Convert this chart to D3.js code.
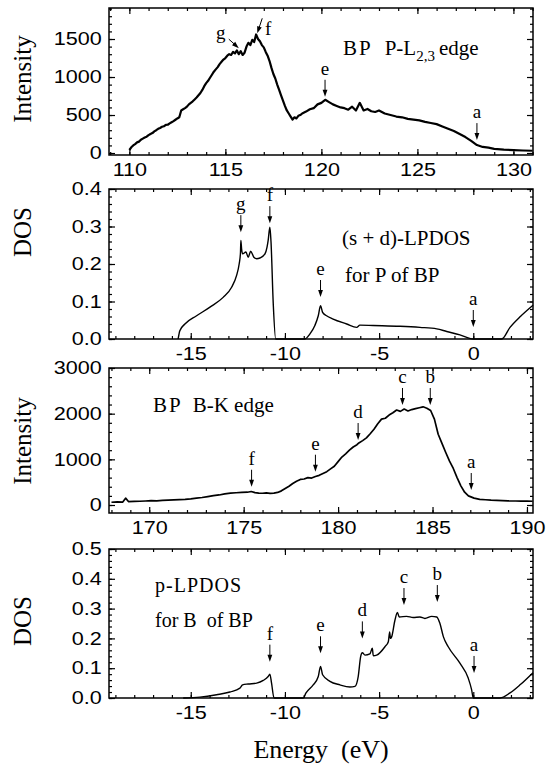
<!DOCTYPE html>
<html>
<head>
<meta charset="utf-8">
<script src="https://cdnjs.cloudflare.com/ajax/libs/d3/7.8.5/d3.min.js"></script>
<style>
  body { margin: 0; background: #fff; }
  svg { display: block; }
  svg text { white-space: pre; }
</style>
</head>
<body>
<svg width="551" height="768"></svg>
<script>
// P-L2,3 edge spectrum (energy loss in eV, counts)
const pEdgeE = [110.0,110.1,110.2,110.3,110.4,110.5,110.6,110.7,110.8,110.9,111.0,111.1,111.2,111.3,111.4,111.5,111.6,111.7,111.8,111.9,
  112.0,112.1,112.2,112.3,112.4,112.5,112.6,112.7,112.8,112.9,113.0,113.1,113.2,113.3,113.4,113.5,113.6,113.7,113.8,113.9,
  114.0,114.1,114.2,114.3,114.4,114.5,114.6,114.7,114.8,114.9,115.0,115.1,115.2,115.3,115.4,115.5,115.6,115.7,115.8,115.9,
  116.0,116.1,116.2,116.3,116.4,116.5,116.6,116.7,116.8,116.9,117.0,117.1,117.2,117.3,117.4,117.5,117.6,117.7,117.8,117.9,
  118.0,118.1,118.2,118.3,118.4,118.5,118.6,118.7,118.8,118.9,119.0,119.2,119.4,119.6,119.8,120.0,120.2,120.4,120.6,120.8,
  121.0,121.2,121.4,121.6,121.8,122.0,122.2,122.4,122.6,122.8,123.0,123.3,123.6,123.9,124.2,124.5,124.8,125.1,125.4,125.7,
  126.0,126.3,126.6,126.9,127.2,127.5,127.8,128.1,128.4,128.7,129.0,129.5,130.0,130.5,131.0];
const pEdgeI = [40,75,100,118,140,150,175,190,205,215,235,250,262,285,300,318,330,345,352,370,
  372,390,405,420,438,455,470,560,575,590,610,640,660,680,705,730,760,790,830,880,
  920,950,990,1030,1070,1100,1130,1170,1200,1230,1250,1280,1300,1290,1330,1310,1350,1300,1340,1290,
  1320,1400,1450,1420,1490,1460,1560,1500,1470,1420,1390,1330,1280,1210,1120,1040,980,900,830,760,
  690,620,560,520,480,440,470,455,490,500,520,545,575,590,640,660,700,670,640,620,
  600,590,570,610,560,660,560,580,550,540,560,520,500,480,470,450,440,430,410,395,
  380,350,320,290,250,210,160,105,80,70,55,45,38,33,30];

// (s + d)-LPDOS for P (eV, states/eV)
const pDosE = [-15.67,-15.58,-15.31,-14.69,-13.98,-13.28,-12.83,-12.57,-12.43,-12.36,-12.34,-12.3,-12.25,-12.07,-11.95,-11.82,-11.65,-11.5,-11.33,-11.06,
  -10.95,-10.89,-10.8,-10.74,-10.62,-10.49,-8.94,-8.68,-8.41,-8.23,-8.11,-8.0,-7.79,-7.44,-6.72,-6.19,-6.02,-5.31,-3.89,-2.83,
  -1.94,-1.41,-0.71,0,1.51,1.95,2.5,3.17];
const pDosV = [0,0.022,0.040,0.062,0.085,0.111,0.138,0.169,0.200,0.230,0.263,0.240,0.227,0.232,0.218,0.234,0.218,0.214,0.216,0.227,
  0.245,0.263,0.298,0.260,0.094,0,0,0.013,0.036,0.062,0.089,0.071,0.062,0.053,0.040,0.031,0.037,0.036,0.034,0.031,
  0.027,0.020,0.011,0,0,0.031,0.060,0.090];

// B-K edge spectrum
const bEdgeE = [168.0,168.3,168.6,168.75,168.9,169.2,169.5,169.8,170.1,170.4,170.7,171.0,171.3,171.6,171.9,172.2,172.5,172.8,173.1,173.4,
  173.7,174.0,174.3,174.6,174.9,175.2,175.4,175.6,175.8,176.0,176.2,176.4,176.6,176.8,177.0,177.2,177.4,177.6,177.8,178.0,
  178.2,178.4,178.6,178.8,179.0,179.2,179.4,179.6,179.8,180.0,180.2,180.4,180.6,180.8,181.0,181.1,181.3,181.5,181.7,181.9,
  182.1,182.3,182.5,182.7,182.9,183.1,183.3,183.5,183.7,183.9,184.1,184.3,184.5,184.7,184.9,185.1,185.3,185.5,185.7,185.9,
  186.1,186.3,186.5,186.7,186.9,187.2,187.5,187.8,188.1,188.4,188.7,189.0,189.4,189.7,190.0,190.3];
const bEdgeI = [60,70,65,150,75,80,82,88,95,92,100,108,112,118,125,135,150,165,185,205,
  220,245,260,268,275,280,295,270,262,258,265,255,262,275,310,360,410,470,520,560,
  570,600,590,625,650,690,730,790,850,950,1050,1120,1200,1270,1320,1360,1410,1470,1560,1660,
  1780,1880,1900,1970,2020,2080,2050,2100,2060,2090,2110,2130,2150,2120,2070,1880,1550,1350,1150,960,
  800,600,420,280,200,150,125,115,105,100,95,90,88,85,85,82];

// p-LPDOS for B
const bDosE = [-15.4,-14.51,-13.63,-12.92,-12.39,-12.25,-11.95,-11.5,-11.15,-10.89,-10.8,-10.71,-10.58,-9.03,-8.88,-8.5,-8.23,-8.11,-8.0,-7.61,
  -7.08,-6.55,-6.28,-6.11,-5.98,-5.89,-5.75,-5.49,-5.36,-5.31,-5.13,-4.69,-4.51,-4.44,-4.4,-4.33,-4.16,-4.03,-3.93,-3.54,
  -3.19,-2.83,-2.57,-2.21,-1.94,-1.77,-1.59,-1.33,-0.71,-0.27,-0.09,0,1.42,1.95,2.5,3.17];
const bDosV = [0,0.003,0.011,0.020,0.033,0.044,0.047,0.050,0.059,0.072,0.080,0.050,0,0,0.017,0.044,0.072,0.106,0.078,0.056,
  0.044,0.037,0.039,0.072,0.139,0.152,0.144,0.148,0.167,0.142,0.144,0.172,0.189,0.222,0.200,0.206,0.261,0.287,0.272,0.274,
  0.270,0.272,0.267,0.274,0.272,0.250,0.206,0.172,0.117,0.067,0.028,0,0,0.017,0.045,0.085];

// peak labels: letter, energy, value at arrow tip
const pEdgeMarks = [["g",115.7,1380],["f",116.66,1575],["e",120.19,740],["a",128.1,170]];
const pDosMarks = [["g",-12.34,0.285],["f",-10.8,0.309],["e",-8.11,0.112],["a",0,0.032]];
const bEdgeMarks = [["f",175.42,400],["e",178.8,729],["d",181.06,1423],["c",183.41,2190],["b",184.88,2190],["a",187.05,328]];
const bDosMarks = [["f",-10.8,0.122],["e",-8.11,0.15],["d",-5.89,0.2],["c",-3.68,0.312],["b",-1.91,0.322],["a",0.04,0.084]];

const pEdgeYTicks = [0, 500, 1000, 1500];
const dosPYTicks = [0, 0.1, 0.2, 0.3, 0.4];
const bEdgeYTicks = [0, 1000, 2000, 3000];
const dosBYTicks = [0, 0.1, 0.2, 0.3, 0.4, 0.5];
const pEdgeXTicks = [110, 115, 120, 125, 130];
const bEdgeXTicks = [170, 175, 180, 185, 190];
const dosXTicks = [-15, -10, -5, 0];

const svg = d3.select("svg");
const left = 109, right = 533;
const serif = "'Liberation Serif', 'Times New Roman', serif";

const panels = [
  {top: 8, bottom: 155, xd: [108.94, 131.02], yd: [-26, 1908], xt: pEdgeXTicks, yt: pEdgeYTicks, ym: 100, fmt: d => d,
   e: pEdgeE, v: pEdgeI, marks: pEdgeMarks, title: "Intensity", ty: 79, sw: 2.2, curve: d3.curveLinear},
  {top: 189, bottom: 339, xd: [-19.34, 3.17], yd: [0, 0.4], xt: dosXTicks, yt: dosPYTicks, ym: 0.02, fmt: d3.format(".1f"),
   e: pDosE, v: pDosV, marks: pDosMarks, title: "DOS", ty: 232, sw: 1.4, curve: d3.curveMonotoneX},
  {top: 368, bottom: 513, xd: [167.87, 190.32], yd: [-175, 3000], xt: bEdgeXTicks, yt: bEdgeYTicks, ym: 200, fmt: d => d,
   e: bEdgeE, v: bEdgeI, marks: bEdgeMarks, title: "Intensity", ty: 441, sw: 1.7, curve: d3.curveLinear},
  {top: 549, bottom: 698, xd: [-19.34, 3.17], yd: [0, 0.5], xt: dosXTicks, yt: dosBYTicks, ym: 0.02, fmt: d3.format(".1f"),
   e: bDosE, v: bDosV, marks: bDosMarks, title: "DOS", ty: 621, sw: 1.4, curve: d3.curveMonotoneX}
];

// the two diagonal arrows of the top panel
const tilt = {
  0: {g: {dx: -10, dy: -9, lx: -18, ly: -9}, f: {dx: 5, dy: -15, lx: 11, ly: 2}}
};

function minors(d, step) {
  const out = [];
  for (let k = Math.ceil(d[0] / step - 1e-6); k * step <= d[1] + 1e-9; k++) out.push(+(k * step).toFixed(4));
  return out;
}

panels.forEach((p, i) => {
  const x = d3.scaleLinear().domain(p.xd).range([left, right]);
  const y = d3.scaleLinear().domain(p.yd).range([p.bottom, p.top]);
  const g = svg.append("g");

  const xMin = minors(p.xd, 1), yMin = minors([Math.max(0, p.yd[0]), p.yd[1]], p.ym);

  g.append("g").attr("class", "lab").attr("transform", `translate(0,${p.bottom})`)
    .call(d3.axisBottom(x).tickValues(p.xt).tickSize(-6).tickPadding(8).tickFormat(d => String(d)));
  g.append("g").attr("transform", `translate(0,${p.bottom})`)
    .call(d3.axisBottom(x).tickValues(xMin).tickSize(-3).tickFormat(""));
  g.append("g").attr("transform", `translate(0,${p.top})`)
    .call(d3.axisTop(x).tickValues(p.xt).tickSize(-6).tickFormat(""));
  g.append("g").attr("transform", `translate(0,${p.top})`)
    .call(d3.axisTop(x).tickValues(xMin).tickSize(-3).tickFormat(""));
  g.append("g").attr("class", "lab").attr("transform", `translate(${left},0)`)
    .call(d3.axisLeft(y).tickValues(p.yt).tickSize(-6).tickPadding(6).tickFormat(p.fmt));
  g.append("g").attr("transform", `translate(${left},0)`)
    .call(d3.axisLeft(y).tickValues(yMin).tickSize(-3).tickFormat(""));
  g.append("g").attr("transform", `translate(${right},0)`)
    .call(d3.axisRight(y).tickValues(p.yt).tickSize(-6).tickFormat(""));
  g.append("g").attr("transform", `translate(${right},0)`)
    .call(d3.axisRight(y).tickValues(yMin).tickSize(-3).tickFormat(""));

  g.selectAll(".domain").remove();
  g.selectAll(".tick line").attr("stroke", "#000").attr("stroke-width", 1.2);
  g.selectAll(".lab text")
    .attr("font-family", "'Liberation Sans', Arial, sans-serif")
    .attr("font-size", 18)
    .attr("fill", "#000")
    .attr("transform", "scale(1.2,1)");

  g.append("rect")
    .attr("x", left).attr("y", p.top)
    .attr("width", right - left).attr("height", p.bottom - p.top)
    .attr("fill", "none").attr("stroke", "#000").attr("stroke-width", 1.5);

  const pts = p.e.map((e, k) => [e, p.v[k]]);
  g.append("path")
    .datum(pts)
    .attr("fill", "none")
    .attr("stroke", "#000")
    .attr("stroke-width", p.sw)
    .attr("stroke-linejoin", "round")
    .attr("d", d3.line().x(d => x(d[0])).y(d => y(d[1])).curve(p.curve));

  // arrows + letters
  p.marks.forEach(([t, e, v]) => {
    const tx = x(e), ty = y(v);
    const o = (tilt[i] && tilt[i][t]) || {dx: 0, dy: -17, lx: 0, ly: -22};
    const sx = tx + o.dx, sy = ty + o.dy;
    const len = Math.hypot(tx - sx, ty - sy);
    const ux = (tx - sx) / len, uy = (ty - sy) / len;
    g.append("line")
      .attr("x1", sx).attr("y1", sy)
      .attr("x2", tx - ux * 5).attr("y2", ty - uy * 5)
      .attr("stroke", "#000").attr("stroke-width", 1);
    g.append("path")
      .attr("d", `M${tx},${ty}L${tx - ux * 7 - uy * 2.4},${ty - uy * 7 + ux * 2.4}L${tx - ux * 7 + uy * 2.4},${ty - uy * 7 - ux * 2.4}Z`)
      .attr("fill", "#000");
    g.append("text")
      .attr("x", tx + o.lx).attr("y", ty + o.ly)
      .attr("text-anchor", "middle")
      .attr("font-family", serif)
      .attr("font-size", 19)
      .text(t);
  });

  svg.append("text")
    .attr("transform", `translate(31,${p.ty}) rotate(-90)`)
    .attr("text-anchor", "middle")
    .attr("font-family", serif)
    .attr("font-size", 25)
    .text(p.title);
});

// panel captions
const cap1 = svg.append("text").attr("x", 343).attr("y", 55).attr("font-family", serif).attr("font-size", 21);
cap1.append("tspan").attr("letter-spacing", 2).text("BP");
cap1.append("tspan").attr("dx", 12).text("P-L");
cap1.append("tspan").attr("font-size", 15).attr("dy", 6).text("2,3");
cap1.append("tspan").attr("dy", -6).attr("dx", 4).text("edge");

svg.append("text").attr("x", 342).attr("y", 245).attr("font-family", serif).attr("font-size", 21).text("(s + d)-LPDOS");
svg.append("text").attr("x", 345).attr("y", 282).attr("font-family", serif).attr("font-size", 21).text("for P of BP");

const cap3 = svg.append("text").attr("x", 153).attr("y", 412).attr("font-family", serif).attr("font-size", 21);
cap3.append("tspan").attr("letter-spacing", 2).text("BP");
cap3.append("tspan").attr("dx", 10).text("B-K edge");

svg.append("text").attr("x", 155).attr("y", 592).attr("font-family", serif).attr("font-size", 20)
  .attr("letter-spacing", 1).text("p-LPDOS");
svg.append("text").attr("x", 155).attr("y", 627).attr("font-family", serif).attr("font-size", 20)
  .text("for B  of BP");

svg.append("text")
  .attr("x", 321).attr("y", 758)
  .attr("text-anchor", "middle")
  .attr("font-family", serif)
  .attr("font-size", 26)
  .text("Energy  (eV)");
</script>
</body>
</html>
